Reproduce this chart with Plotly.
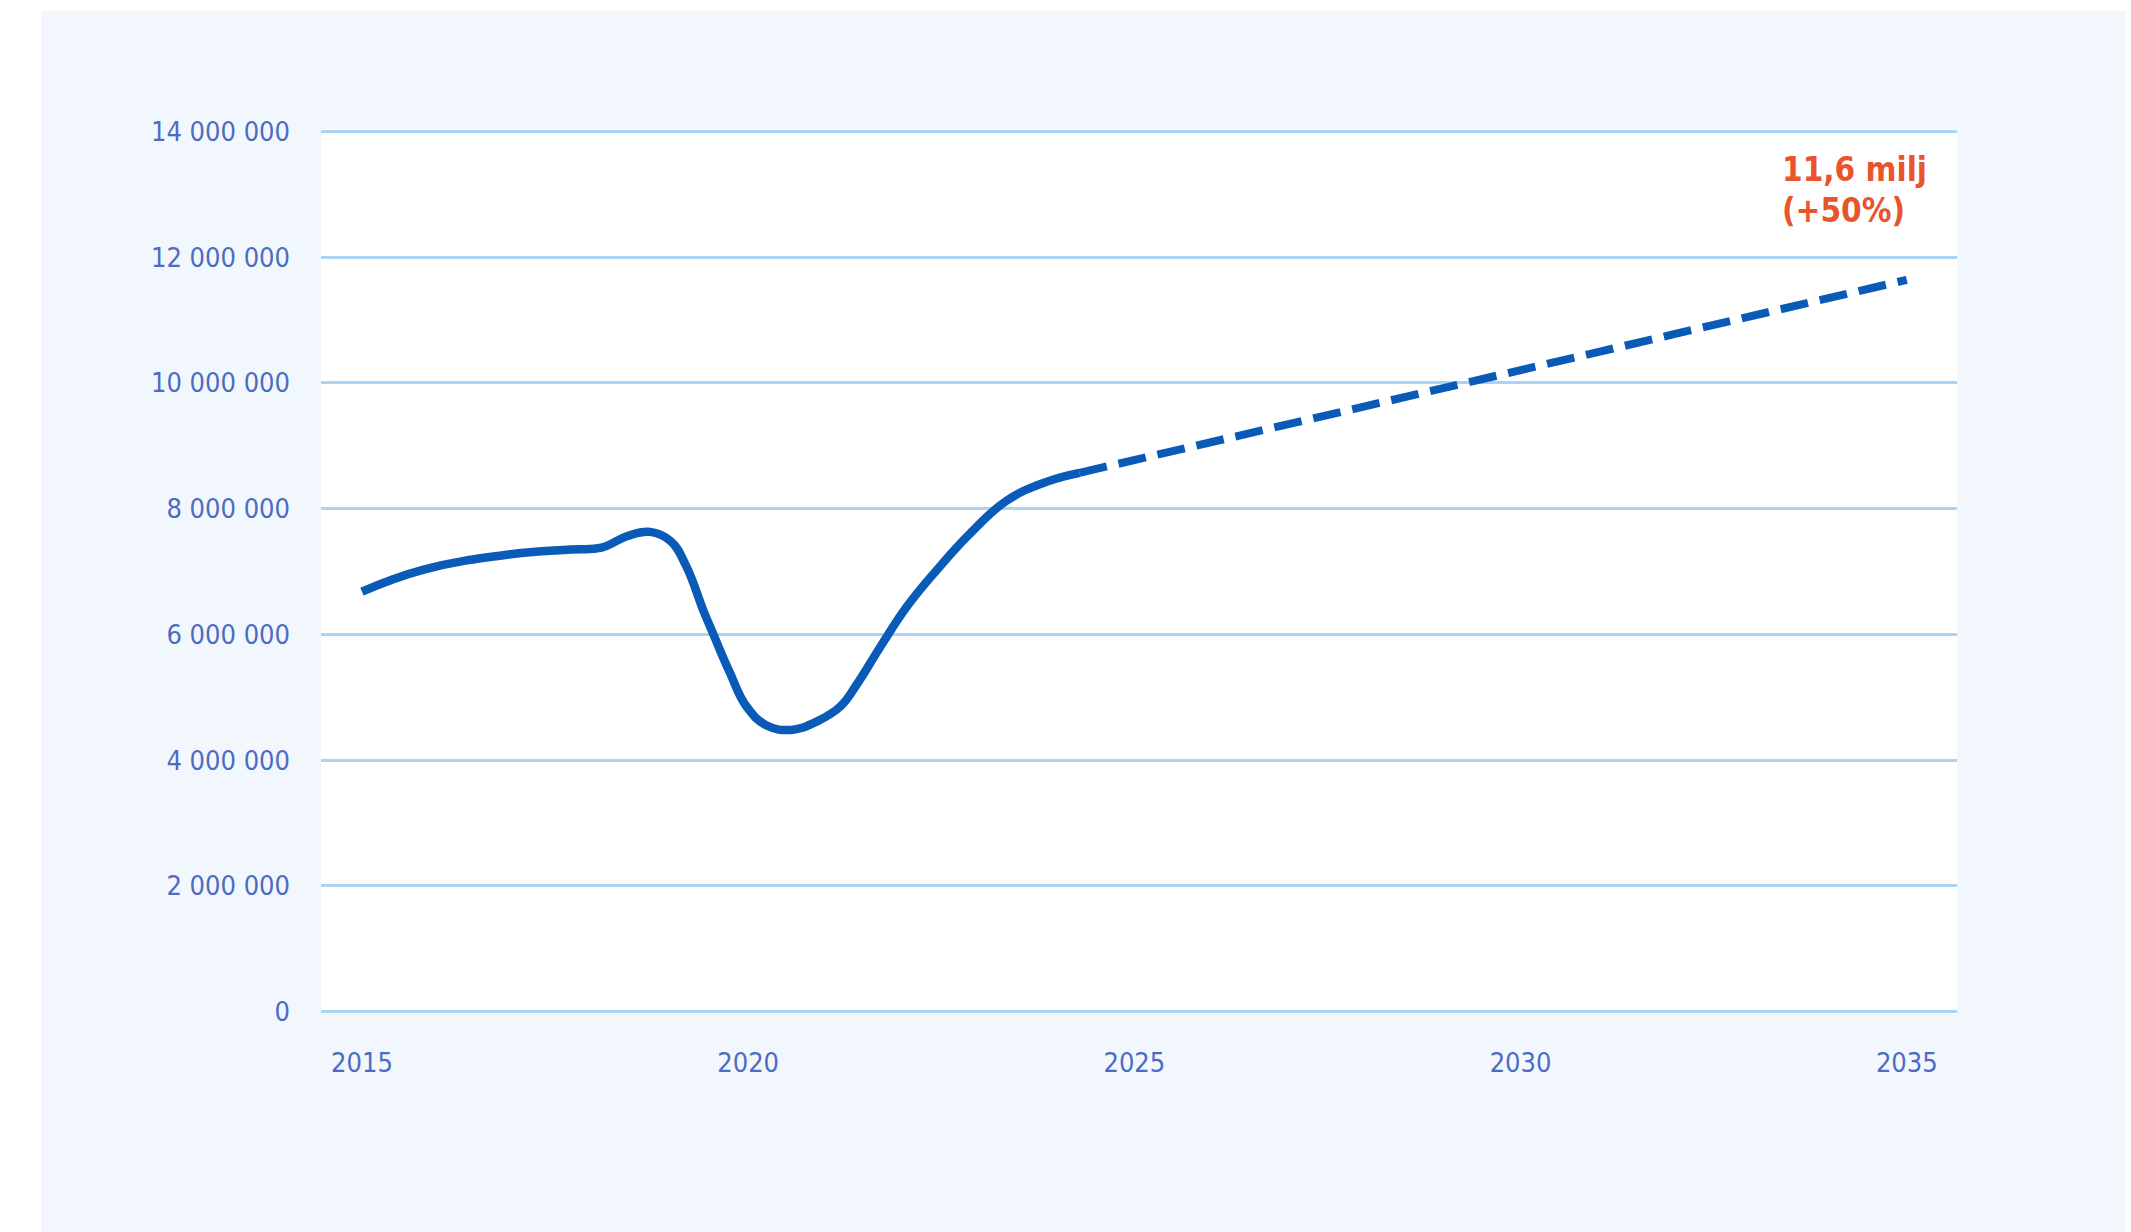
import plotly.graph_objects as go

# Historical (solid) series – passengers per year
hist_years = [2015.0, 2015.8, 2016.9, 2017.7, 2018.1, 2018.43, 2018.73, 2019.0,
              2019.2, 2019.42, 2019.55, 2019.76, 2019.98, 2020.24, 2020.56,
              2020.9, 2021.2, 2021.41, 2021.71, 2022.06, 2022.44, 2022.87,
              2023.35, 2023.87, 2024.29]
hist_values = [6.68e6, 7.03e6, 7.27e6, 7.35e6, 7.38e6, 7.56e6, 7.63e6, 7.48e6,
               7.08e6, 6.38e6, 6.00e6, 5.40e6, 4.85e6, 4.55e6, 4.48e6,
               4.62e6, 4.86e6, 5.21e6, 5.80e6, 6.45e6, 7.02e6, 7.60e6,
               8.13e6, 8.43e6, 8.57e6]

# Forecast (dashed) series
fc_years = [2024.29, 2025, 2026, 2027, 2028, 2029, 2030, 2031, 2032, 2033, 2034, 2035]
fc_values = [8.57e6, 8.77e6, 9.06e6, 9.35e6, 9.63e6, 9.92e6, 10.21e6, 10.49e6,
             10.78e6, 11.07e6, 11.35e6, 11.64e6]

x_ticks = [2015, 2020, 2025, 2030, 2035]
y_ticks = [0, 2e6, 4e6, 6e6, 8e6, 10e6, 12e6, 14e6]
note_lines = ["11,6 milj", "(+50%)"]

LINE = "#0A5BB8"
GRID = "#A9D4F5"
TICK = "#4C6CC4"
NOTE = "#E9542C"
PANEL = "#F2F7FD"
TICK_FONT = "DejaVu Sans Condensed, Roboto, sans-serif"

fig = go.Figure()
fig.add_trace(go.Scatter(
    x=hist_years, y=hist_values, mode="lines",
    line=dict(color=LINE, width=8.5, shape="spline", smoothing=1.2),
    hoverinfo="skip", showlegend=False))
fig.add_trace(go.Scatter(
    x=fc_years, y=fc_values, mode="lines",
    line=dict(color=LINE, width=8, dash="28px,12px"),
    hoverinfo="skip", showlegend=False))

W, H = 2131, 1232
ml, mr, mt, mb = 321, 174, 129, 218
pw, ph = W - ml - mr, H - mt - mb

def px_x(p):
    return (p - ml) / pw

def px_y(p):
    return (H - mb - p) / ph

# white page strips around the light panel
fig.add_shape(type="rect", xref="paper", yref="paper", layer="below",
              x0=px_x(-20), x1=px_x(41), y0=px_y(H + 20), y1=px_y(-20),
              fillcolor="white", line_width=0)
fig.add_shape(type="rect", xref="paper", yref="paper", layer="below",
              x0=px_x(-20), x1=px_x(W + 20), y0=px_y(11), y1=px_y(-20),
              fillcolor="white", line_width=0)
fig.add_shape(type="rect", xref="paper", yref="paper", layer="below",
              x0=px_x(2126), x1=px_x(W + 20), y0=px_y(H + 20), y1=px_y(-20),
              fillcolor="white", line_width=0)

for i, t in enumerate(note_lines):
    fig.add_annotation(text=t, xref="paper", yref="paper",
                       x=px_x(1780), y=px_y(169 + 42 * i),
                       xanchor="left", yanchor="middle", showarrow=False,
                       font=dict(family="DejaVu Sans Condensed, sans-serif",
                                 size=33, color=NOTE, weight="bold"))

fig.update_layout(
    width=W, height=H,
    margin=dict(l=ml, r=mr, t=mt, b=mb, pad=0),
    paper_bgcolor=PANEL, plot_bgcolor="white",
    separators=", ",
    xaxis=dict(range=[2014.47, 2035.65], tickvals=x_ticks, ticktext=[str(v) for v in x_ticks],
               showgrid=False, zeroline=False, showline=False, ticks="",
               ticklabelstandoff=30,
               tickfont=dict(family=TICK_FONT, size=27, color=TICK)),
    yaxis=dict(range=[-0.04e6, 14.04e6], tickvals=y_ticks, tickformat=",d",
               showgrid=True, gridcolor=GRID, gridwidth=3,
               zeroline=False, showline=False, ticks="",
               ticklabelstandoff=30,
               tickfont=dict(family=TICK_FONT, size=27, color=TICK)),
)

fig.write_html("out.html", config={"displayModeBar": False},
               post_script="document.body.style.margin='0';")
